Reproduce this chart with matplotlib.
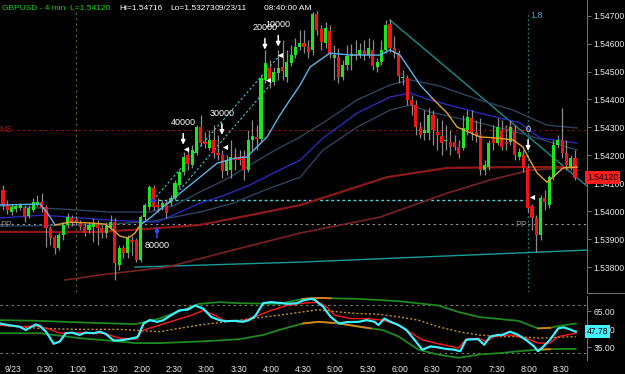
import matplotlib
matplotlib.use('Agg')
import matplotlib.pyplot as plt
import numpy as np

plt.rcParams['font.family'] = ['Liberation Sans', 'DejaVu Sans']

# ---- candles (4 min bars, GBPUSD) ----
opens = [1.54076, 1.54022, 1.53997, 1.54008, 1.54012, 1.54012, 1.53983, 1.54004, 1.54022, 1.54033,
         1.54015, 1.53940, 1.53908, 1.53868, 1.53915, 1.53951, 1.53976, 1.53972, 1.53958, 1.53943,
         1.53933, 1.53943, 1.53958, 1.53940, 1.53922, 1.53940, 1.53961, 1.53807, 1.53868, 1.53850,
         1.53897, 1.53897, 1.53825, 1.53979, 1.54015, 1.54083, 1.54022, 1.54015, 1.54029, 1.54029,
         1.54047, 1.54094, 1.54140, 1.54201, 1.54165, 1.54208, 1.54301, 1.54248, 1.54226, 1.54255,
         1.54208, 1.54201, 1.54144, 1.54147, 1.54194, 1.54194, 1.54198, 1.54147, 1.54255, 1.54266,
         1.54258, 1.54470, 1.54513, 1.54462, 1.54495, 1.54516, 1.54480, 1.54530, 1.54559, 1.54588,
         1.54602, 1.54588, 1.54577, 1.54706, 1.54652, 1.54602, 1.54645, 1.54548, 1.54552, 1.54480,
         1.54523, 1.54556, 1.54563, 1.54559, 1.54574, 1.54559, 1.54577, 1.54516, 1.54534, 1.54577,
         1.54670, 1.54584, 1.54566, 1.54477, 1.54477, 1.54398, 1.54380, 1.54301, 1.54280, 1.54280,
         1.54344, 1.54283, 1.54269, 1.54251, 1.54248, 1.54248, 1.54230, 1.54226, 1.54291, 1.54334,
         1.54283, 1.54273, 1.54147, 1.54158, 1.54262, 1.54244, 1.54291, 1.54248, 1.54248, 1.54283,
         1.54194, 1.54201, 1.54155, 1.54019, 1.53976, 1.53915, 1.54047, 1.54022, 1.54122, 1.54237,
         1.54255, 1.54208, 1.54158, 1.54190]
highs = [1.54094, 1.54040, 1.54026, 1.54026, 1.54029, 1.54022, 1.54022, 1.54047, 1.54058, 1.54065,
         1.54022, 1.53947, 1.53915, 1.53922, 1.53961, 1.53993, 1.53986, 1.53983, 1.53968, 1.53954,
         1.53961, 1.53976, 1.53968, 1.53951, 1.53961, 1.53986, 1.53976, 1.53879, 1.53879, 1.53915,
         1.53911, 1.53904, 1.53986, 1.54029, 1.54094, 1.54094, 1.54047, 1.54040, 1.54040, 1.54058,
         1.54112, 1.54147, 1.54212, 1.54219, 1.54237, 1.54308, 1.54344, 1.54283, 1.54291, 1.54308,
         1.54273, 1.54219, 1.54201, 1.54255, 1.54226, 1.54219, 1.54219, 1.54291, 1.54326, 1.54308,
         1.54487, 1.54577, 1.54541, 1.54516, 1.54577, 1.54613, 1.54577, 1.54595, 1.54620, 1.54649,
         1.54649, 1.54613, 1.54712, 1.54716, 1.54667, 1.54677, 1.54667, 1.54595, 1.54584, 1.54541,
         1.54595, 1.54598, 1.54613, 1.54602, 1.54613, 1.54620, 1.54613, 1.54548, 1.54613, 1.54684,
         1.54688, 1.54627, 1.54577, 1.54505, 1.54487, 1.54416, 1.54398, 1.54319, 1.54362, 1.54369,
         1.54362, 1.54334, 1.54326, 1.54308, 1.54291, 1.54273, 1.54255, 1.54344, 1.54362, 1.54362,
         1.54326, 1.54334, 1.54183, 1.54255, 1.54308, 1.54334, 1.54326, 1.54308, 1.54326, 1.54308,
         1.54226, 1.54219, 1.54165, 1.54026, 1.53986, 1.54058, 1.54076, 1.54130, 1.54255, 1.54273,
         1.54369, 1.54255, 1.54201, 1.54219]
lows = [1.54004, 1.53990, 1.53986, 1.53997, 1.54004, 1.53961, 1.53976, 1.53997, 1.54019, 1.53997,
        1.53872, 1.53879, 1.53847, 1.53861, 1.53897, 1.53940, 1.53947, 1.53951, 1.53933, 1.53911,
        1.53922, 1.53890, 1.53879, 1.53904, 1.53904, 1.53933, 1.53754, 1.53789, 1.53832, 1.53832,
        1.53843, 1.53818, 1.53818, 1.53968, 1.54004, 1.54004, 1.53997, 1.54004, 1.53976, 1.54019,
        1.54040, 1.54083, 1.54130, 1.54147, 1.54155, 1.54201, 1.54233, 1.54226, 1.54219, 1.54190,
        1.54183, 1.54119, 1.54130, 1.54119, 1.54147, 1.54165, 1.54112, 1.54140, 1.54219, 1.54219,
        1.54248, 1.54459, 1.54441, 1.54452, 1.54470, 1.54470, 1.54462, 1.54520, 1.54548, 1.54577,
        1.54566, 1.54548, 1.54559, 1.54631, 1.54577, 1.54584, 1.54548, 1.54470, 1.54459, 1.54470,
        1.54505, 1.54505, 1.54541, 1.54548, 1.54541, 1.54548, 1.54505, 1.54498, 1.54523, 1.54566,
        1.54570, 1.54548, 1.54459, 1.54452, 1.54380, 1.54344, 1.54273, 1.54262, 1.54255, 1.54255,
        1.54237, 1.54219, 1.54201, 1.54219, 1.54201, 1.54219, 1.54190, 1.54219, 1.54273, 1.54255,
        1.54248, 1.54130, 1.54130, 1.54147, 1.54219, 1.54237, 1.54219, 1.54219, 1.54237, 1.54183,
        1.54183, 1.54140, 1.53997, 1.53933, 1.53854, 1.53897, 1.54004, 1.54012, 1.54112, 1.54226,
        1.54190, 1.54147, 1.54147, 1.54112]
closes = [1.54022, 1.54004, 1.54015, 1.54019, 1.54022, 1.53979, 1.54012, 1.54033, 1.54033, 1.54012,
          1.53940, 1.53904, 1.53868, 1.53915, 1.53951, 1.53979, 1.53958, 1.53961, 1.53943, 1.53922,
          1.53951, 1.53958, 1.53940, 1.53922, 1.53947, 1.53961, 1.53815, 1.53868, 1.53850, 1.53904,
          1.53890, 1.53825, 1.53979, 1.54022, 1.54087, 1.54015, 1.54015, 1.54029, 1.53993, 1.54047,
          1.54101, 1.54140, 1.54194, 1.54169, 1.54219, 1.54301, 1.54244, 1.54241, 1.54255, 1.54208,
          1.54201, 1.54144, 1.54183, 1.54194, 1.54183, 1.54183, 1.54147, 1.54255, 1.54269, 1.54258,
          1.54477, 1.54530, 1.54470, 1.54498, 1.54513, 1.54502, 1.54534, 1.54559, 1.54588, 1.54602,
          1.54588, 1.54570, 1.54706, 1.54649, 1.54606, 1.54656, 1.54566, 1.54559, 1.54480, 1.54523,
          1.54556, 1.54563, 1.54556, 1.54577, 1.54559, 1.54584, 1.54520, 1.54534, 1.54577, 1.54667,
          1.54584, 1.54566, 1.54484, 1.54480, 1.54398, 1.54380, 1.54301, 1.54273, 1.54291, 1.54344,
          1.54291, 1.54273, 1.54244, 1.54255, 1.54230, 1.54230, 1.54205, 1.54298, 1.54337, 1.54283,
          1.54269, 1.54147, 1.54165, 1.54244, 1.54244, 1.54301, 1.54230, 1.54241, 1.54301, 1.54201,
          1.54212, 1.54155, 1.54012, 1.53976, 1.53915, 1.54047, 1.54033, 1.54122, 1.54237, 1.54255,
          1.54208, 1.54165, 1.54190, 1.54120]

# ---- moving averages (bar index, price) ----
fast_k = [-0.7, 8.6, 10.2, 12.1, 15.6, 20.2, 23.7, 25.6, 27.2, 29.1, 30.7, 31.9, 34.2, 37.7, 41.2,
          45.8, 49.8, 54.0, 56.7, 61.4, 64.4, 66.7, 69.1, 71.4, 76.0, 80.7, 87.7, 90.0, 92.3, 94.7,
          97.0, 99.8, 103.3, 105.6, 110.9, 114.9, 118.6, 120.9, 122.1, 124.2, 126.5, 127.9, 130.2, 133.5]
fast_ma = [1.54022, 1.54026, 1.53997, 1.53951, 1.53961, 1.53958, 1.53954, 1.53933, 1.53911, 1.53904,
           1.53922, 1.53951, 1.53976, 1.54022, 1.54065, 1.54122, 1.54172, 1.54190, 1.54194, 1.54266,
           1.54344, 1.54398, 1.54452, 1.54516, 1.54566, 1.54559, 1.54559, 1.54577, 1.54559, 1.54505,
           1.54452, 1.54405, 1.54351, 1.54301, 1.54266, 1.54262, 1.54255, 1.54230, 1.54194, 1.54137,
           1.54104, 1.54122, 1.54155, 1.54158]
fast_rising = [(0, 3, True), (3, 11, False), (11, 31, True), (31, 43, False)]

env_up_k = [-0.7, 13.3, 24.9, 34.2, 40.0, 45.8, 51.6, 57.4, 63.3, 69.1, 74.4, 82.3, 90.0, 94.7,
            101.6, 110.9, 118.6, 126.5, 133.5]
env_up = [1.54019, 1.54008, 1.53997, 1.53997, 1.54022, 1.54069, 1.54112, 1.54165, 1.54219, 1.54266,
          1.54316, 1.54398, 1.54452, 1.54470, 1.54448, 1.54398, 1.54362, 1.54308, 1.54298]
mid_k = [-0.7, 9.3, 24.9, 35.8, 41.2, 45.8, 51.6, 57.4, 63.3, 69.1, 74.4, 82.3, 90.0, 94.7, 99.3,
         110.9, 120.2, 124.9, 133.5]
mid_ma = [1.53976, 1.53986, 1.53968, 1.53961, 1.53997, 1.54029, 1.54058, 1.54094, 1.54140, 1.54183,
          1.54262, 1.54351, 1.54409, 1.54423, 1.54398, 1.54351, 1.54316, 1.54262, 1.54244]
env_dn_k = [-0.7, 22.6, 34.9, 45.8, 53.5, 60.9, 69.1, 74.4, 82.3, 90.0, 94.7, 99.3, 110.9, 120.2, 133.5]
env_dn = [1.53947, 1.53951, 1.53965, 1.53997, 1.54029, 1.54076, 1.54122, 1.54219, 1.54301, 1.54362,
          1.54380, 1.54355, 1.54316, 1.54280, 1.54219]
slow_k = [-0.7, 22.6, 36.5, 45.8, 57.4, 69.1, 89.3, 103.3, 118.6, 133.5]
slow_ma = [1.53926, 1.53926, 1.53940, 1.53951, 1.53986, 1.54022, 1.54122, 1.54155, 1.54158, 1.54158]
slow2_k = [14.4, 22.6, 38.1, 53.5, 69.1, 87.7, 103.3, 113.3, 122.6, 133.5]
slow2_ma = [1.53754, 1.53772, 1.53800, 1.53861, 1.53922, 1.53979, 1.54065, 1.54112, 1.54147, 1.54158]

# ---- drawn levels / trendlines ----
support_k, support = [30.7, 69.1, 135.8], [1.53800, 1.53818, 1.53861]
trend_k, trend = [90.0, 135.8], [1.54684, 1.54090]
chan1_k, chan1 = [34.9, 64.4], [1.54040, 1.54559]
chan2_k, chan2 = [37.7, 62.1], [1.54015, 1.54452]
entry_level, entry_k = 1.54040, (34.9, 122.6)
pp_level = 1.53954
m3_level = 1.54292
session_k = 17.0
cycle_k = 122.1

# order tags: (bar, label price, label)
orders = [(41.9, 1.54316, '40000'), (50.9, 1.54351, '30000'), (60.9, 1.54656, '20000'),
          (64.0, 1.54667, '10000'), (122.1, 1.54294, '0')]
exits_k = [42.6, 51.6, 61.6, 64.4, 123.0]
exits = [1.54223, 1.54230, 1.54470, 1.54559, 1.54051]

price_ticks = [1.538, 1.539, 1.540, 1.541, 1.542, 1.543, 1.544, 1.545, 1.546, 1.547]
last_price = 1.54120

# ---- oscillator panel ----
osc_k = [-0.7, 1.2, 3.9, 5.3, 7.6, 8.6, 10.0, 11.8, 13.2, 14.6, 16.0, 17.8, 19.2, 21.1, 22.5, 23.9,
         25.7, 27.1, 29.0, 31.3, 32.7, 34.1, 35.9, 37.3, 39.1, 41.0, 42.9, 44.7, 46.6, 48.4, 50.3,
         51.7, 54.0, 55.8, 57.2, 58.6, 60.5, 62.3, 64.2, 66.0, 68.3, 69.7, 71.6, 72.5, 73.4, 74.4,
         76.2, 78.1, 79.9, 82.7, 84.6, 86.4, 87.3, 88.7, 90.1, 92.0, 93.8, 95.7, 97.5, 99.4, 101.2,
         103.1, 104.9, 106.3, 107.7, 109.1, 110.5, 111.9, 113.3, 115.1, 116.1, 117.9, 119.8, 121.6,
         123.5, 124.4, 125.3, 127.2, 129.1, 130.4, 131.8, 133.2]
osc = [54.6, 53.3, 51.9, 49.2, 53.8, 52.5, 47.8, 37.7, 39.6, 46.5, 47.0, 45.1, 47.0, 46.5, 47.8, 45.9,
       40.5, 40.5, 41.5, 43.2, 54.6, 57.4, 56.0, 57.4, 61.5, 65.5, 66.1, 69.6, 66.9, 60.1, 57.4,
       56.5, 56.8, 56.0, 57.4, 60.6, 71.5, 72.4, 71.8, 71.0, 71.5, 73.7, 75.1, 74.3, 71.5, 68.8,
       60.1, 54.6, 55.7, 56.0, 57.4, 56.0, 53.3, 58.7, 56.0, 53.3, 49.2, 41.0, 32.8, 35.5, 34.7,
       33.4, 32.8, 31.5, 41.0, 41.5, 41.5, 36.9, 43.7, 45.1, 45.1, 47.8, 45.1, 41.0,
       35.5, 31.5, 34.2, 41.0, 50.5, 51.4, 49.7, 47.78]
sig_k = [-0.7, 3.9, 7.6, 10.4, 13.2, 16.0, 19.7, 23.4, 27.1, 30.8, 32.7, 36.4, 40.1, 43.8, 46.6, 49.3,
         51.2, 54.9, 58.6, 62.3, 66.0, 69.7, 73.4, 75.3, 77.1, 80.9, 84.6, 88.3, 91.1, 93.8, 97.5,
         101.2, 105.9, 107.7, 110.5, 112.4, 114.2, 117.9, 121.6, 124.4, 127.2, 129.1, 133.2]
sig = [53.3, 51.9, 52.5, 50.5, 46.5, 47.0, 46.5, 46.5, 42.4, 41.5, 49.2, 53.3, 57.4, 61.5, 65.5, 61.5,
       57.4, 56.0, 60.1, 65.5, 69.6, 71.5, 72.4, 68.3, 61.5, 58.7, 58.7, 57.4, 54.6, 49.2, 41.0,
       37.7, 34.2, 41.5, 42.4, 39.6, 43.7, 45.1, 42.4, 38.3, 38.3, 43.7, 46.5]
band_up_k = [-0.7, 8.6, 17.8, 30.8, 36.4, 45.6, 50.3, 54.9, 64.2, 69.7, 73.4, 76.2, 82.7, 92.0,
             101.2, 105.9, 110.5, 119.8, 124.4, 127.2, 129.1, 133.2]
band_up = [57.4, 56.8, 55.5, 54.1, 58.7, 71.0, 72.4, 71.5, 71.0, 75.1, 75.9, 75.6, 75.1, 73.2,
           69.6, 64.2, 60.1, 56.8, 50.5, 51.0, 52.4, 54.6]
band_up_hot = [(9, 11), (18, 19)]
band_dn_k = [-0.7, 8.6, 17.8, 27.1, 30.8, 36.4, 45.6, 54.9, 60.5, 64.2, 69.7, 73.4, 77.1, 78.5,
             85.5, 88.3, 92.0, 96.6, 101.2, 105.9, 110.5, 116.1, 119.8, 124.4, 127.2, 129.1, 133.2]
band_dn = [46.5, 46.5, 42.4, 39.6, 38.3, 38.3, 39.6, 41.5, 45.1, 49.2, 54.6, 56.0, 55.0, 54.4,
           50.5, 49.2, 43.7, 32.8, 28.7, 26.0, 28.7, 30.1, 31.5, 32.8, 33.2, 33.4, 33.4]
band_dn_hot = [(10, 12), (13, 14), (23, 24)]
base_k = [-0.7, 8.6, 17.8, 27.1, 36.4, 45.6, 54.9, 64.2, 73.4, 78.1, 82.7, 87.3, 92.0, 96.6,
          101.2, 105.9, 110.5, 115.1, 119.8, 124.4, 133.2]
base = [53.3, 50.5, 49.7, 49.7, 47.8, 53.3, 57.4, 61.5, 66.1, 64.2, 62.8, 62.3, 60.1, 57.4,
        51.9, 47.8, 45.1, 43.7, 43.7, 42.4, 43.7]

time_labels = ['9/23', '0:30', '1:00', '1:30', '2:00', '2:30', '3:00', '3:30', '4:00', '4:30',
               '5:00', '5:30', '6:00', '6:30', '7:00', '7:30', '8:00', '8:30']
time_minutes = [0, 30, 60, 90, 120, 150, 180, 210, 240, 270, 300, 330, 360, 390, 420, 450, 480, 510]

FS = 6.2
W, H = 625, 374
fig = plt.figure(figsize=(W / 100, H / 100), dpi=100, facecolor='black')
ax = fig.add_axes([0, 1 - 292 / H, 587 / W, 292 / H], facecolor='black')
ax2 = fig.add_axes([0, 1 - 360 / H, 587 / W, 64 / H], facecolor='black')
for a in (ax, ax2):
    a.set_xlim(-0.7, 135.8)
    for s in a.spines.values():
        s.set_visible(False)
    a.spines['right'].set_visible(True)
    a.spines['right'].set_color('#707070')
ax.set_ylim(1.53711, 1.54756)
ax2.set_ylim(24.2, 77.5)

# levels
ax.axhline(pp_level, color='#9a9a9a', lw=0.8, ls=(0, (2, 3)), zorder=1)
ax.axhline(m3_level, color='#9a1010', lw=0.8, ls=(0, (2, 3)), zorder=1)
ax.axvline(session_k, ymin=0, ymax=0.965, color='#5f6a2a', lw=0.8, ls=(0, (2, 3)), zorder=1)
ax.axvline(cycle_k, ymin=0, ymax=0.96, color='#1a7f7f', lw=0.9, ls=(0, (1.5, 2)), zorder=1)
ax.hlines(entry_level, *entry_k, color='#3fdede', lw=1, ls=(0, (2, 2)), zorder=2)
ax.plot(chan1_k, chan1, color='#3fc8d8', lw=0.8, ls=(0, (2, 2)), zorder=2)
ax.plot(chan2_k, chan2, color='#3fc8d8', lw=0.8, ls=(0, (2, 2)), zorder=2)
ax.plot(support_k, support, color='#1a9c9c', lw=1, zorder=2)
ax.plot(trend_k, trend, color='#1a8c8c', lw=1, zorder=2)

# moving averages
ax.plot(slow2_k, slow2_ma, color='#7a2222', lw=1.2, zorder=2)
ax.plot(slow_k, slow_ma, color='#8e1818', lw=1.6, zorder=2)
ax.plot(env_up_k, env_up, color='#2c4460', lw=1, zorder=2)
ax.plot(env_dn_k, env_dn, color='#2c4460', lw=1, zorder=2)
ax.plot(mid_k, mid_ma, color='#2a2ab8', lw=1, zorder=2)

# candles
k = np.arange(len(closes))
o, hi, lo, c = (np.array(v) for v in (opens, highs, lows, closes))
up = c >= o
body = c - o
body = np.where(np.abs(body) < 0.00003, np.where(up, 0.00003, -0.00003), body)
ax.vlines(k, lo, hi, color='#8c8c8c', lw=0.9, zorder=3)
ax.bar(k, body, bottom=o, width=0.72, color=np.where(up, '#1ee61e', '#f01414'),
       linewidth=0, zorder=4)

for a, b, rising in fast_rising:
    ax.plot(fast_k[a:b + 1], fast_ma[a:b + 1], color='#5ab4ea' if rising else '#e3a334',
            lw=1, zorder=5)

# order tags
arrow = dict(arrowstyle='-|>,head_width=0.12,head_length=0.25', lw=1.1,
             shrinkA=0, shrinkB=0)
for bk, pr, lab in orders:
    ax.text(bk, pr, lab, color='white', fontsize=FS + 0.3, ha='center', va='center', zorder=6)
    ax.annotate('', xy=(bk, pr - 0.00078), xytext=(bk, pr - 0.00038),
                arrowprops=dict(arrow, color='white'), zorder=6)
ax.scatter(exits_k, exits, marker='<', s=14, color='white', zorder=6, linewidths=0)
ax.scatter([chan1_k[0]], [entry_level], marker='>', s=16, color='#3030ff', zorder=6, linewidths=0)
ax.annotate('', xy=(35.8, 1.53945), xytext=(35.8, 1.53905),
            arrowprops=dict(arrow, color='#3050ff'), zorder=6)
ax.text(35.8, 1.53879, '80000', color='white', fontsize=FS + 0.3, ha='center', va='center', zorder=6)

ax.text(-0.9, m3_level, 'M3', color='#a01818', fontsize=FS, ha='left', va='center')
ax.text(116.3, m3_level, 'M3', color='#a01818', fontsize=FS, ha='left', va='center')
ax.text(-0.7, pp_level, 'PP', color='#8a8a8a', fontsize=FS, ha='left', va='center')
ax.text(119.0, pp_level, 'PP', color='#8a8a8a', fontsize=FS, ha='left', va='center')
ax.text(cycle_k + 0.5, 1.54700, '1.8', color='#4aa6d8', fontsize=FS + 0.3, ha='left', va='center')

# right price scale
ax.yaxis.tick_right()
ax.set_yticks(price_ticks)
ax.set_yticklabels([f'{p:.5f}' for p in price_ticks])
ax.tick_params(axis='y', labelcolor='#e8e8e8', color='#808080', labelsize=FS, length=3,
               width=0.6, pad=1.5)
ax.set_xticks([])
ax.text(1.0, last_price, f'{last_price:.5f}', transform=ax.get_yaxis_transform(),
        color='black', fontsize=FS, ha='left', va='center',
        bbox=dict(boxstyle='square,pad=0.2', fc='#ff1e1e', ec='none'), clip_on=False)

# header
fig.text(2 / W, 1 - 8 / H, 'GBPUSD - 4 min  L=1.54120', color='#19d019', fontsize=6.0,
         ha='left', va='center')
for x, s in [(119, 'Hi=1.54716'), (170, 'Lo=1.53273'), (215, '09/23/11'), (264, '08:40:00 AM')]:
    fig.text(x / W, 1 - 8 / H, s, color='white', fontsize=6.0, ha='left', va='center')

# oscillator panel
ax2.axhline(70, color='#808080', lw=0.8, ls=(0, (2, 3)))
ax2.axhline(30, color='#808080', lw=0.8, ls=(0, (2, 3)))
ax2.plot(band_up_k, band_up, color='#1e8a1e', lw=1.3)
ax2.plot(band_dn_k, band_dn, color='#1e8a1e', lw=1.3)
for a, b in band_up_hot:
    ax2.plot(band_up_k[a:b + 1], band_up[a:b + 1], color='#d9801c', lw=1.3)
for a, b in band_dn_hot:
    ax2.plot(band_dn_k[a:b + 1], band_dn[a:b + 1], color='#d9801c', lw=1.3)
ax2.plot(base_k, base, color='#c09030', lw=1, ls=(0, (1.5, 1.5)))
ax2.plot(sig_k, sig, color='#ff1a1a', lw=1)
ax2.plot(osc_k, osc, color='#3ff0ff', lw=1.6)

ax2.yaxis.tick_right()
ax2.set_yticks([35, 50, 65])
ax2.set_yticklabels(['35.00', '50.00', '65.00'])
ax2.tick_params(axis='y', labelcolor='#e8e8e8', color='#808080', labelsize=FS, length=3,
                width=0.6, pad=1.5)
ax2.set_xticks([2.3 + m / 4 for m in time_minutes])
ax2.set_xticklabels(time_labels)
ax2.tick_params(axis='x', labelcolor='#e8e8e8', labelsize=FS, length=0, pad=3.5)
ax2.text(1.0, osc[-1], f'{osc[-1]:.2f}', transform=ax2.get_yaxis_transform(),
         color='black', fontsize=FS, ha='left', va='center',
         bbox=dict(boxstyle='square,pad=0.2', fc='#40f0ff', ec='none'), clip_on=False)

fig.add_artist(plt.Line2D([587 / W, 1], [1 - 293 / H] * 2, color='#707070', lw=0.8))

fig.savefig('out.png', dpi=100, facecolor='black')
